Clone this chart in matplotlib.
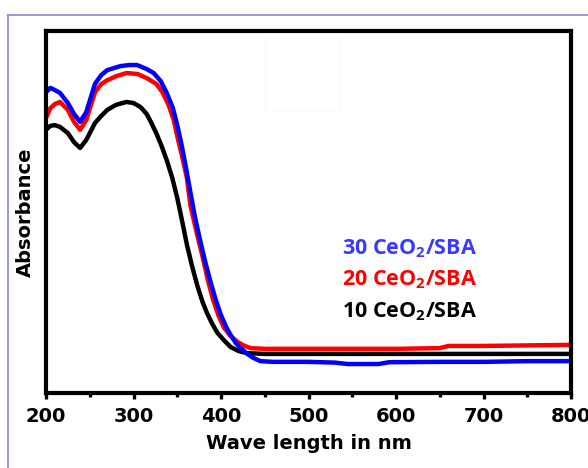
import numpy as np
import matplotlib
matplotlib.use("Agg")
import matplotlib.pyplot as plt
from matplotlib.lines import Line2D
from matplotlib.patches import Rectangle

# UV-vis spectra, absorbance in arbitrary units
wl_30 = [200, 205, 210, 216, 225, 232, 239, 246, 256, 263, 270, 285, 295, 304, 315, 323, 331, 338,
         345, 350, 355, 360, 365, 370, 376, 382, 388, 394, 400, 406, 411, 417, 422, 430, 437, 445,
         460, 500, 530, 545, 580, 592, 650, 700, 750, 800]
abs_30 = [0.831, 0.843, 0.837, 0.829, 0.801, 0.771, 0.749, 0.776, 0.854, 0.878, 0.892, 0.903, 0.906,
          0.906, 0.895, 0.884, 0.862, 0.829, 0.787, 0.740, 0.685, 0.622, 0.555, 0.489, 0.423, 0.362,
          0.307, 0.257, 0.215, 0.182, 0.160, 0.138, 0.125, 0.108, 0.097, 0.088, 0.086, 0.086, 0.084,
          0.080, 0.080, 0.085, 0.086, 0.086, 0.088, 0.088]

wl_20 = [200, 205, 210, 216, 225, 232, 239, 246, 256, 263, 270, 280, 292, 305, 315, 326, 333, 340,
         346, 351, 356, 361, 365, 372, 379, 385, 391, 397, 403, 411, 419, 427, 434, 450, 500, 600,
         650, 660, 700, 800]
abs_20 = [0.760, 0.787, 0.798, 0.804, 0.782, 0.749, 0.727, 0.754, 0.831, 0.853, 0.864, 0.875, 0.884,
          0.881, 0.870, 0.854, 0.831, 0.796, 0.754, 0.699, 0.649, 0.594, 0.519, 0.445, 0.376, 0.312,
          0.257, 0.215, 0.182, 0.157, 0.141, 0.130, 0.124, 0.122, 0.122, 0.122, 0.124, 0.130, 0.130,
          0.133]

wl_10 = [200, 205, 210, 216, 225, 232, 239, 246, 256, 263, 270, 280, 292, 300, 308, 315, 320, 326,
         332, 338, 344, 350, 356, 361, 367, 373, 379, 384, 390, 396, 404, 411, 420, 430, 450, 600, 800]
abs_10 = [0.727, 0.738, 0.740, 0.735, 0.718, 0.693, 0.677, 0.699, 0.746, 0.765, 0.782, 0.796, 0.804,
          0.801, 0.790, 0.771, 0.748, 0.718, 0.683, 0.643, 0.597, 0.539, 0.470, 0.410, 0.350, 0.296,
          0.251, 0.221, 0.191, 0.166, 0.144, 0.127, 0.116, 0.110, 0.108, 0.108, 0.108]

series = [
    (wl_10, abs_10, "#000000", "10 CeO$_\\mathregular{2}$/SBA", "#000000", 0.224),
    (wl_20, abs_20, "#ff0000", "20 CeO$_\\mathregular{2}$/SBA", "#ff0000", 0.312),
    (wl_30, abs_30, "#0000ff", "30 CeO$_\\mathregular{2}$/SBA", "#3a3aff", 0.400),
]

fig = plt.figure(figsize=(5.88, 4.68), dpi=100)

# purple slide frame
fig.add_artist(Line2D([8 / 588, 8 / 588], [0, 1 - 15 / 468], transform=fig.transFigure,
                      color="#9c82c9", lw=1.2))
fig.add_artist(Line2D([8 / 588, 1], [1 - 15 / 468, 1 - 15 / 468], transform=fig.transFigure,
                      color="#9c82c9", lw=1.2))
fig.add_artist(Rectangle((265 / 588, 1 - 110 / 468), 75 / 588, 72 / 468, transform=fig.transFigure,
                         fill=False, ec="#f7f7f7", lw=0.8))

ax = fig.add_axes([46 / 588, 75 / 468, 525 / 588, 362 / 468])

for x, y, c, lab, tc, ty in series:
    ax.plot(x, y, color=c, lw=3.2, solid_joinstyle="round")

ax.set_xlim(200, 800)
ax.set_ylim(0, 1.0)
ax.set_xticks(np.arange(200, 801, 100))
ax.set_xticks(np.arange(250, 800, 100), minor=True)
ax.set_yticks([])
ax.tick_params(axis="x", which="major", direction="out", length=4, width=2.4, pad=6)
ax.tick_params(axis="x", which="minor", direction="out", length=3, width=2.4)
for lbl in ax.get_xticklabels():
    lbl.set_fontweight("bold")
    lbl.set_fontsize(14)
for sp in ax.spines.values():
    sp.set_linewidth(3)

ax.set_xlabel("Wave length in nm", fontsize=14, fontweight="bold", labelpad=6)
ax.set_ylabel("Absorbance", fontsize=14, fontweight="bold", labelpad=8)

for x, y, c, lab, tc, ty in series:
    ax.text(0.564, ty, lab, transform=ax.transAxes, color=tc, fontsize=15.5,
            family="Open Sans", fontweight="bold", va="center", ha="left")

fig.savefig("out.png", dpi=100)
